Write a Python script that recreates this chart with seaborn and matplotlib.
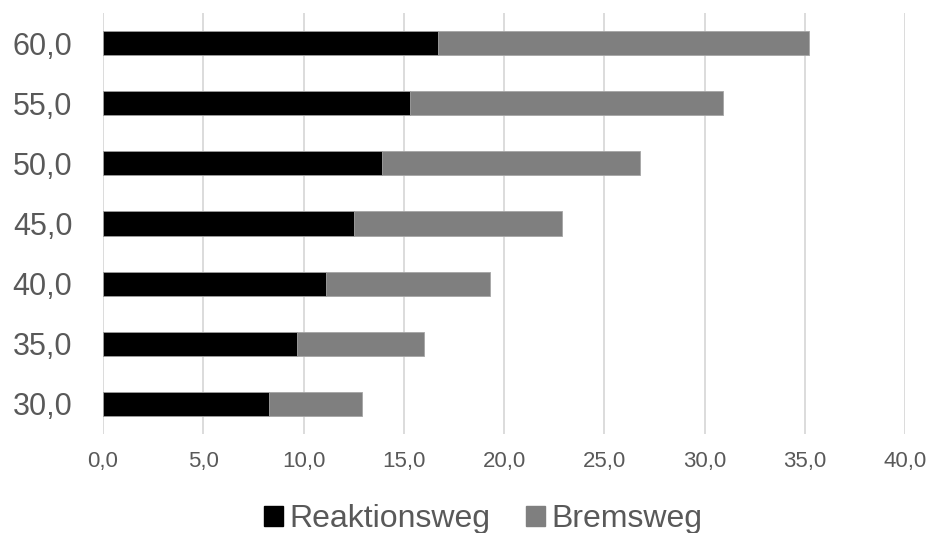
import matplotlib
matplotlib.use("Agg")
import matplotlib.pyplot as plt
from matplotlib.patches import Patch
import seaborn as sns
import pandas as pd

# Speed categories (km/h) and distances (m)
geschwindigkeit = ["30,0", "35,0", "40,0", "45,0", "50,0", "55,0", "60,0"]
reaktionsweg = [8.3, 9.7, 11.1, 12.5, 13.9, 15.3, 16.7]
bremsweg = [4.6, 6.3, 8.2, 10.4, 12.9, 15.6, 18.5]
x_ticks = [0, 5, 10, 15, 20, 25, 30, 35, 40]

df = pd.DataFrame({
    "v": geschwindigkeit,
    "Reaktionsweg": reaktionsweg,
    "Bremsweg": bremsweg,
})
df["Gesamt"] = df["Reaktionsweg"] + df["Bremsweg"]
order = geschwindigkeit[::-1]

sns.set_theme(style="white")
plt.rcParams["font.family"] = ["Liberation Sans", "DejaVu Sans"]

fig = plt.figure(figsize=(9.3, 5.33), dpi=100)
ax = fig.add_axes([103 / 930, 1 - 434 / 533, 802 / 930, 421 / 533])

black = "#000000"
grey = "#7f7f7f"

# stacked bars: total length in grey, reaction distance in black on top
sns.barplot(data=df, y="v", x="Gesamt", order=order, orient="h",
            color=grey, saturation=1, width=0.4, ax=ax,
            edgecolor="#a6a6a6", linewidth=0.6, zorder=2)
sns.barplot(data=df, y="v", x="Reaktionsweg", order=order, orient="h",
            color=black, saturation=1, width=0.4, ax=ax,
            edgecolor="#a6a6a6", linewidth=0.6, zorder=3)

ax.set_xlim(0, 40)
ax.set_ylim(6.5, -0.5)
ax.set_xticks(x_ticks)
ax.set_xticklabels([f"{t:.1f}".replace(".", ",") for t in x_ticks])
ax.xaxis.grid(True, color="#d9d9d9", linewidth=1.3, zorder=0)
ax.yaxis.grid(False)
ax.set_axisbelow(True)
for s in ax.spines.values():
    s.set_visible(False)
ax.set_xlabel("")
ax.set_ylabel("")
ax.tick_params(axis="x", length=0, pad=12, labelsize=16, labelcolor="#595959")
ax.tick_params(axis="y", length=0, pad=22, labelsize=22, labelcolor="#595959")

handles = [Patch(facecolor=black, edgecolor=black, label="Reaktionsweg"),
           Patch(facecolor=grey, edgecolor=grey, label="Bremsweg")]
fig.legend(handles=handles, loc="center", bbox_to_anchor=(483 / 930, 1 - 519 / 533),
           ncol=2, frameon=False, fontsize=23, labelcolor="#595959",
           handlelength=0.6, handleheight=0.6, handletextpad=0.2,
           columnspacing=1.1, borderaxespad=0)

fig.savefig("out.png", dpi=100)
